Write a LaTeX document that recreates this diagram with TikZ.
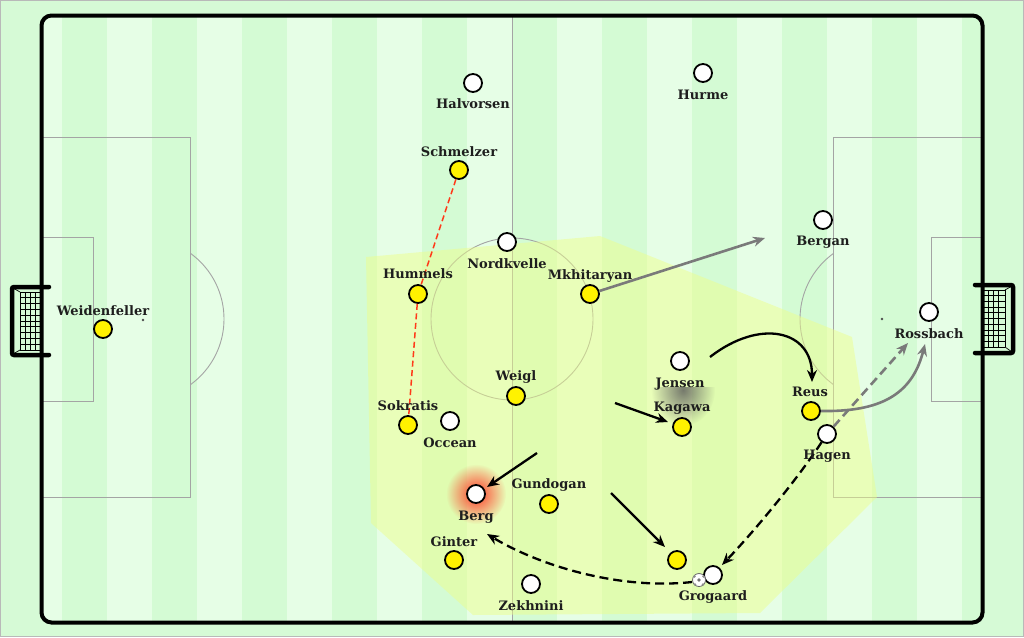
\documentclass[tikz,border=0pt]{standalone}
\usepackage{fontspec}
\setmainfont{DejaVu Serif}
\usetikzlibrary{arrows.meta,fadings}
\definecolor{bgc}{HTML}{D6FAD6}
\definecolor{lightS}{HTML}{E6FEE6}
\definecolor{darkS}{HTML}{D4FBD4}
\definecolor{lineC}{HTML}{A4A4A4}
\definecolor{zone}{HTML}{EEFF88}
\definecolor{pyellow}{HTML}{FFF200}
\definecolor{redd}{HTML}{FF3A1A}
\definecolor{greyA}{HTML}{7A7A7A}
\definecolor{txt}{HTML}{1E1E1E}
\definecolor{glowc}{HTML}{FF3C28}
\tikzfading[name=fadedown, top color=transparent!0, bottom color=transparent!100]
\tikzfading[name=glowfade, inner color=transparent!0, outer color=transparent!100]
\begin{document}
\begin{tikzpicture}[x=1pt,y=-1pt,
  player/.style={circle,draw=black,line width=1.8pt,minimum size=18pt,inner sep=0pt},
  wp/.style={player,fill=white},
  yp/.style={player,fill=pyellow},
  lab/.style={text=txt,font=\fontsize{13}{14}\selectfont\bfseries,inner sep=0pt,anchor=base},
  pline/.style={draw=lineC,line width=0.9pt},
  blk/.style={draw=black,line width=2.3pt,-{Stealth[length=12pt,width=10pt]}},
  blkdash/.style={blk,dash pattern=on 9pt off 5pt},
  greyarr/.style={draw=greyA,line width=2.6pt,-{Stealth[length=12pt,width=10pt]}},
  greydash/.style={greyarr,dash pattern=on 9pt off 5pt},
  reddash/.style={draw=redd,line width=1.5pt,dash pattern=on 6pt off 3.5pt},
  netline/.style={draw=black,line width=0.7pt},
  goalframe/.style={draw=black,line width=4.5pt,line cap=round,rounded corners=2pt}
]
\useasboundingbox (0,0) rectangle (1024,637);
\fill[bgc] (0,0) rectangle (1024,637);
\draw[gray!55,line width=1pt] (0.5,0.5) rectangle (1023.5,636.5);

% pitch stripes
\begin{scope}
  \clip[rounded corners=10pt] (41.5,15.5) rectangle (982.5,622.5);
  \fill[lightS] (41.5,15.5) rectangle (982.5,622.5);
  \foreach \i in {0,...,10} { \fill[darkS] ({62+90*\i},15) rectangle ({107+90*\i},623); }
\end{scope}

% markings
\draw[pline] (512,15.5) -- (512,622.5);
\draw[pline] (512,319) circle (81);
\draw[pline] (41.5,137) rectangle (190.5,497);
\draw[pline] (41.5,237) rectangle (93,401);
\draw[pline] (833.5,137) rectangle (982.5,497);
\draw[pline] (931,237) rectangle (982.5,401);
\begin{scope}
  \clip (190.5,0) rectangle (400,637);
  \draw[pline] (143,319) circle (81);
\end{scope}
\begin{scope}
  \clip (600,0) rectangle (833.5,637);
  \draw[pline] (881,319) circle (81);
\end{scope}
\fill[black!70] (143,320) circle (1.3);
\fill[black!70] (882,319) circle (1.3);

% zone
\fill[zone,opacity=0.47] (366,257) -- (600,236) -- (852,337) -- (877,497) -- (760,613) -- (473,615) -- (371,523) -- cycle;

% pitch border
\draw[black,line width=4pt,rounded corners=10pt] (41.5,15.5) rectangle (982.5,622.5);

% left goal
\foreach \x in {20,25,30,35} { \draw[netline] (\x,292) -- (\x,350); }
\foreach \k in {0,...,10} { \draw[netline] (20,{292+5.8*\k}) -- (41,{292+5.8*\k}); }
\draw[netline] (13,288) -- (20,292);
\draw[netline] (13,354) -- (20,350);
\draw[goalframe] (49,287) -- (12,287) -- (12,355) -- (49,355);

% right goal
\foreach \x in {988,993,998,1005} { \draw[netline] (\x,290) -- (\x,347); }
\foreach \k in {0,...,10} { \draw[netline] (983,{290+5.7*\k}) -- (1005,{290+5.7*\k}); }
\draw[netline] (1005,290) -- (1012,286);
\draw[netline] (1005,347) -- (1012,352);
\draw[goalframe] (975,285) -- (1013,285) -- (1013,353) -- (975,353);

% glow and shadow
\fill[glowc,path fading=glowfade] (476,494) circle (30);
\begin{scope}
  \clip (640,387) rectangle (730,440);
  \fill[black!65,opacity=0.8,path fading=glowfade] (683,390) ellipse [x radius=32, y radius=36];
\end{scope}

% players
\node[wp] (halvorsen) at (473,83) {};
\node[wp] (hurme) at (703,73) {};
\node[yp] (schmelzer) at (459,170) {};
\node[wp] (nordkvelle) at (507,242) {};
\node[yp] (hummels) at (418,294) {};
\node[yp] (mkhitaryan) at (590,294) {};
\node[yp] (weidenfeller) at (103,329) {};
\node[wp] (bergan) at (823,220) {};
\node[wp] (rossbach) at (929,312) {};
\node[wp] (jensen) at (680,361) {};
\node[yp] (kagawa) at (682,427) {};
\node[yp] (reus) at (811,411) {};
\node[wp] (hagen) at (827,434) {};
\node[yp] (weigl) at (516,396) {};
\node[yp] (sokratis) at (408,425) {};
\node[wp] (occean) at (450,421) {};
\node[wp] (berg) at (476,494) {};
\node[yp] (gundogan) at (549,504) {};
\node[yp] (ginter) at (454,560) {};
\node[wp] (zekhnini) at (531,584) {};
\node[yp] (yellowx) at (677,560) {};
\node[wp] (grogaard) at (713,575) {};

% connectors
\draw[reddash] (schmelzer) -- (hummels) -- (sokratis);

\coordinate (mk-e) at (765,238);
\draw[greyarr] (mkhitaryan) -- (mk-e);

\coordinate (jr-s) at (710,357);
\coordinate (jr-e) at (812,382);
\draw[blk] (jr-s) .. controls (760,318) and (812,330) .. (jr-e);

\coordinate (kg-s) at (615,403);
\coordinate (kg-e) at (668,422);
\draw[blk] (kg-s) -- (kg-e);

\coordinate (bg-s) at (537,453);
\coordinate (bg-e) at (487,487);
\draw[blk] (bg-s) -- (bg-e);

\coordinate (yx-s) at (611,493);
\coordinate (yx-e) at (665,547);
\draw[blk] (yx-s) -- (yx-e);

\coordinate (gb-s) at (692,582);
\coordinate (gb-e) at (487,534);
\draw[blkdash] (gb-s) .. controls (620,590) and (540,566) .. (gb-e);

\coordinate (hg-e) at (722,565);
\draw[blkdash] (hagen) .. controls (800,475) and (760,525) .. (hg-e);

\coordinate (hr-e) at (908,343);
\draw[greydash] (hagen) -- (hr-e);

\coordinate (rr-e) at (925,344);
\draw[greyarr] (reus.east) .. controls (880,412) and (912,395) .. (rr-e);

% ball
\node[circle,draw=black!60,fill=white,line width=0.8pt,minimum size=13pt,inner sep=0pt] (ball) at (699,580) {};
\fill[black!55] (699,580) circle (1.8);
\fill[black!45] (694.5,576.5) circle (1.4);
\fill[black!45] (703.5,576.5) circle (1.4);
\fill[black!45] (695,584.5) circle (1.4);
\fill[black!45] (703,584.5) circle (1.4);

% labels
\node[lab] (halvorsen-l) at (473,108) {Halvorsen};
\node[lab] (hurme-l) at (703,99) {Hurme};
\node[lab] (schmelzer-l) at (459,156) {Schmelzer};
\node[lab] (nordkvelle-l) at (507,268) {Nordkvelle};
\node[lab] (hummels-l) at (418,278) {Hummels};
\node[lab] (mkhitaryan-l) at (590,279) {Mkhitaryan};
\node[lab] (weidenfeller-l) at (103,315) {Weidenfeller};
\node[lab] (bergan-l) at (823,245) {Bergan};
\node[lab] (rossbach-l) at (929,338) {Rossbach};
\node[lab] (jensen-l) at (680,387) {Jensen};
\node[lab] (kagawa-l) at (682,411) {Kagawa};
\node[lab] (reus-l) at (810,396) {Reus};
\node[lab] (hagen-l) at (827,459) {Hagen};
\node[lab] (weigl-l) at (516,380) {Weigl};
\node[lab] (sokratis-l) at (408,410) {Sokratis};
\node[lab] (occean-l) at (450,447) {Occean};
\node[lab] (berg-l) at (476,520) {Berg};
\node[lab] (gundogan-l) at (549,488) {Gundogan};
\node[lab] (ginter-l) at (454,546) {Ginter};
\node[lab] (zekhnini-l) at (531,610) {Zekhnini};
\node[lab] (grogaard-l) at (713,600) {Grogaard};
\end{tikzpicture}
\end{document}
